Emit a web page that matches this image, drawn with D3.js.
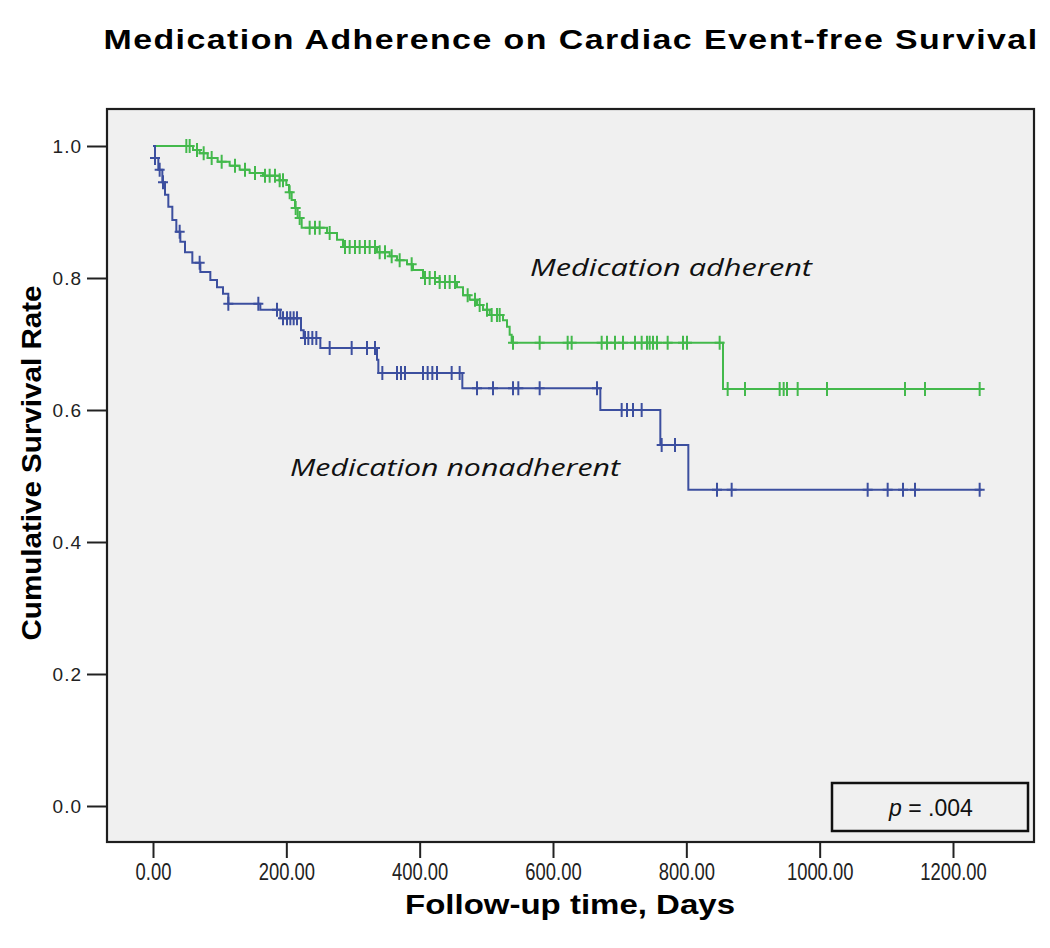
<!DOCTYPE html>
<html><head><meta charset="utf-8">
<script src="https://cdn.jsdelivr.net/npm/d3@7"></script>
<style>body{margin:0;background:#fff} svg{display:block}</style>
</head><body><svg id="c" width="1050" height="948"></svg>
<script>
// ---------- data ----------
const chartTitle = "Medication Adherence on Cardiac Event-free Survival";
const xTitle = "Follow-up time, Days";
const yTitle = "Cumulative Survival Rate";
const xTicks = [0, 200, 400, 600, 800, 1000, 1200];
const yTicks = [0, 0.2, 0.4, 0.6, 0.8, 1.0];
const groupNames = ["Medication adherent", "Medication nonadherent"];
const pValueLabel = ".004";
const followUpEnd = 1243;

const adherentEventTimes = [60,70,82,97,115,130,145,165,190,200,204,208,213,217,223,261,276,285,336,355,366,381,390,405,430,456,465,475,486,495,505,525,531,535,538,855];
const adherentSurvival  = [0.994,0.989,0.982,0.976,0.970,0.964,0.959,0.955,0.948,0.941,0.930,0.918,0.906,0.891,0.876,0.868,0.858,0.847,0.839,0.833,0.827,0.821,0.812,0.800,0.794,0.786,0.774,0.767,0.759,0.752,0.744,0.736,0.726,0.714,0.702,0.632];
const adherentCensored  = [50,55,66,76,88,103,123,138,153,168,175,183,190,195,205,214,220,235,243,250,265,288,295,303,310,318,325,333,340,348,358,370,388,408,415,423,430,438,445,453,472,483,490,501,508,516,520,540,580,622,628,673,681,693,705,723,733,741,745,750,756,772,795,801,850,862,888,940,946,951,967,1011,1128,1158,1240];

const nonadherentEventTimes = [3,8,14,18,23,29,35,41,48,59,71,86,96,105,113,161,191,222,226,251,336,338,464,671,761,803];
const nonadherentSurvival  = [0.982,0.964,0.945,0.926,0.908,0.888,0.870,0.855,0.839,0.823,0.809,0.797,0.786,0.776,0.761,0.752,0.739,0.721,0.709,0.694,0.676,0.656,0.633,0.600,0.547,0.479];
const nonadherentCensored  = [3,10,15,40,70,113,158,186,195,201,206,211,216,228,233,239,245,265,298,321,333,344,366,372,378,405,412,419,426,448,460,486,510,540,548,580,666,703,711,720,733,763,783,846,868,1072,1102,1125,1143,1240];

// ---------- layout ----------
const svg = d3.select("#c");
const frame = {left: 107, top: 109, right: 1034, bottom: 842};
const x = d3.scaleLinear().domain([0, 1200]).range([153, 953]);
const y = d3.scaleLinear().domain([0, 1]).range([806, 146]);
const colors = {adherent: "#43b94c", nonadherent: "#3c4f9f"};

svg.append("rect").attr("width", 1050).attr("height", 948).attr("fill", "#fff");
svg.append("rect")
  .attr("x", frame.left).attr("y", frame.top)
  .attr("width", frame.right - frame.left).attr("height", frame.bottom - frame.top)
  .attr("fill", "#f0f0f0");

// title
svg.append("text").attr("x", 571).attr("y", 49)
  .attr("text-anchor", "middle")
  .attr("font-family", "Liberation Sans, Arial, sans-serif")
  .attr("font-weight", "bold").attr("font-size", 28).attr("letter-spacing", 1.2)
  .attr("textLength", 935).attr("lengthAdjust", "spacingAndGlyphs")
  .text(chartTitle);

// axes
const xAxis = d3.axisBottom(x).tickValues(xTicks).tickFormat(d3.format(".2f"))
  .tickSize(16).tickSizeOuter(0).tickPadding(6);
const gx = svg.append("g").attr("transform", `translate(0,${frame.bottom})`).call(xAxis);
gx.select(".domain").remove();
gx.selectAll("line").attr("stroke", "#222").attr("stroke-width", 2);
gx.selectAll("text").attr("font-family", "Liberation Sans, Arial, sans-serif")
  .attr("font-size", 23).attr("fill", "#222")
  .each(function() {
    const w = this.getComputedTextLength();
    d3.select(this).attr("textLength", w * 0.8).attr("lengthAdjust", "spacingAndGlyphs");
  });

const yAxis = d3.axisLeft(y).tickValues(yTicks).tickFormat(d3.format(".1f"))
  .tickSize(20).tickSizeOuter(0).tickPadding(5);
const gy = svg.append("g").attr("transform", `translate(${frame.left},0)`).call(yAxis);
gy.select(".domain").remove();
gy.selectAll("line").attr("stroke", "#222").attr("stroke-width", 2);
gy.selectAll("text").attr("font-family", "Liberation Sans, Arial, sans-serif")
  .attr("font-size", 19).attr("letter-spacing", 1).attr("fill", "#222");

// frame
svg.append("rect")
  .attr("x", frame.left).attr("y", frame.top)
  .attr("width", frame.right - frame.left).attr("height", frame.bottom - frame.top)
  .attr("fill", "none").attr("stroke", "#1e1e1e").attr("stroke-width", 2.2);

// axis titles
svg.append("text").attr("x", 570).attr("y", 914).attr("text-anchor", "middle")
  .attr("font-family", "Liberation Sans, Arial, sans-serif")
  .attr("font-weight", "bold").attr("font-size", 27)
  .attr("textLength", 330).attr("lengthAdjust", "spacingAndGlyphs")
  .text(xTitle);
svg.append("text").attr("transform", "translate(41,463) rotate(-90)")
  .attr("text-anchor", "middle")
  .attr("font-family", "Liberation Sans, Arial, sans-serif")
  .attr("font-weight", "bold").attr("font-size", 27)
  .attr("textLength", 355).attr("lengthAdjust", "spacingAndGlyphs")
  .text(yTitle);

// KM curves
function kmPoints(times, surv) {
  const pts = [[0, 1]];
  times.forEach((t, i) => pts.push([t, surv[i]]));
  pts.push([followUpEnd, surv[surv.length - 1]]);
  return pts;
}
function survAt(times, surv, t) {
  let s = 1;
  for (let i = 0; i < times.length; i++) if (times[i] <= t) s = surv[i];
  return s;
}
const line = d3.line().x(d => x(d[0])).y(d => y(d[1])).curve(d3.curveStepAfter);

const series = [
  {key: "adherent", times: adherentEventTimes, surv: adherentSurvival, cens: adherentCensored},
  {key: "nonadherent", times: nonadherentEventTimes, surv: nonadherentSurvival, cens: nonadherentCensored}
];
series.forEach(sr => {
  const g = svg.append("g");
  g.append("path").attr("d", line(kmPoints(sr.times, sr.surv)))
    .attr("fill", "none").attr("stroke", colors[sr.key]).attr("stroke-width", 2);
  g.selectAll("path.cens").data(sr.cens).enter().append("path").attr("class", "cens")
    .attr("d", t => {
      const cx = x(t), cy = y(survAt(sr.times, sr.surv, t));
      return `M${cx},${cy - 7}V${cy + 7}M${cx - 5},${cy}H${cx + 5}`;
    })
    .attr("stroke", colors[sr.key]).attr("stroke-width", 2).attr("fill", "none");
});

// annotations
svg.append("text").attr("x", 530).attr("y", 276)
  .attr("font-family", "Open Sans, Noto Sans, sans-serif").attr("font-style", "italic")
  .attr("font-size", 23).attr("fill", "#111")
  .attr("textLength", 282).attr("lengthAdjust", "spacingAndGlyphs")
  .text(groupNames[0]);
svg.append("text").attr("x", 290).attr("y", 476)
  .attr("font-family", "Open Sans, Noto Sans, sans-serif").attr("font-style", "italic")
  .attr("font-size", 23).attr("fill", "#111")
  .attr("textLength", 330).attr("lengthAdjust", "spacingAndGlyphs")
  .text(groupNames[1]);

// p-value box
svg.append("rect").attr("x", 832).attr("y", 783).attr("width", 196).attr("height", 48)
  .attr("fill", "#f0f0f0").attr("stroke", "#111").attr("stroke-width", 2.5);
const pt = svg.append("text").attr("x", 931).attr("y", 816).attr("text-anchor", "middle")
  .attr("font-family", "Liberation Sans, Arial, sans-serif").attr("font-size", 23).attr("fill", "#111");
pt.append("tspan").attr("font-style", "italic").text("p");
pt.append("tspan").text(" = " + pValueLabel);
</script></body></html>
